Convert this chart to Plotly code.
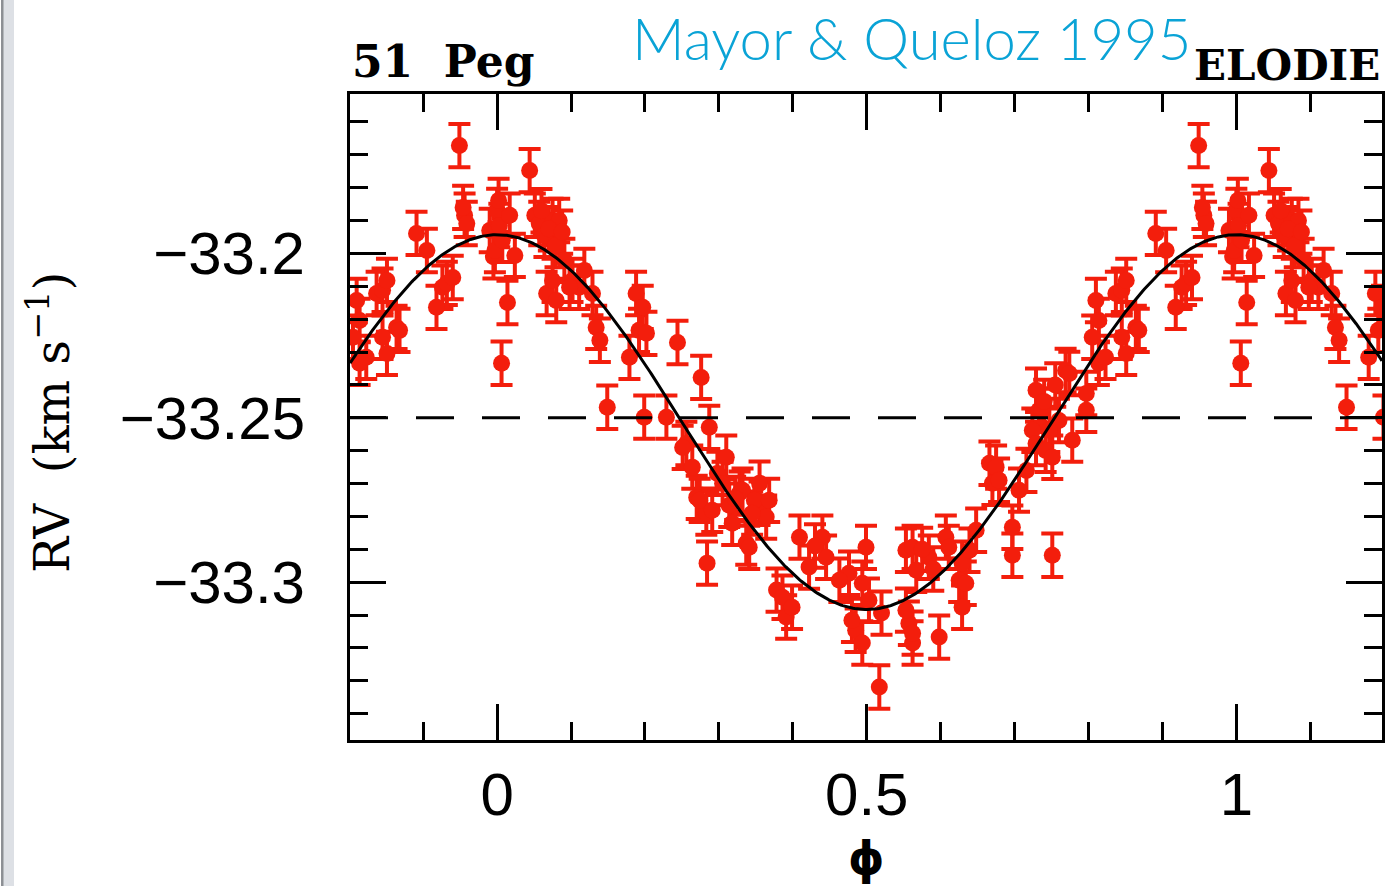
import numpy as np
import plotly.graph_objects as go

# Orbital phase and radial velocity (km/s) of 51 Peg, ELODIE measurements
phase = [
    0.000, 0.002, 0.007, 0.003, 0.014, 0.006, 0.044, 0.051, 0.057, 0.064,
    0.075, 0.084, 0.079, 0.067, 0.080, 0.075, 0.091, 0.102, 0.111, 0.098,
    0.118, 0.129, 0.134, 0.139, 0.179, 0.188, 0.197, 0.192, 0.149, 0.199,
    0.017, 0.024, 0.060, 0.070, 0.088,
    0.202, 0.229, 0.244, 0.276, 0.287, 0.256, 0.251, 0.264, 0.270, 0.283,
    0.284, 0.274, 0.291, 0.310, 0.328, 0.332, 0.318, 0.337, 0.341, 0.355,
    0.364, 0.355, 0.378, 0.386, 0.391, 0.409, 0.422, 0.440, 0.445, 0.476,
    0.499, 0.494, 0.485, 0.494, 0.517, 0.298, 0.314, 0.348, 0.368, 0.399,
    0.463, 0.480, 0.322, 0.345, 0.305, 0.430,
    0.503, 0.520, 0.553, 0.567, 0.557, 0.562, 0.553, 0.562, 0.598, 0.562,
    0.584, 0.607, 0.611, 0.625, 0.629, 0.629, 0.634, 0.639, 0.648, 0.666,
    0.670, 0.675, 0.697, 0.697, 0.706, 0.751, 0.729, 0.733, 0.724, 0.729,
    0.742, 0.751, 0.760, 0.769, 0.737, 0.778, 0.774, 0.797, 0.797, 0.679,
    0.716, 0.747, 0.740, 0.755, 0.575, 0.590,
    0.805, 0.810, 0.814, 0.814, 0.823, 0.837, 0.845, 0.845, 0.851, 0.851,
    0.864, 0.868, 0.891, 0.905, 0.918, 0.926, 0.932, 0.949, 0.956, 0.959,
    0.954, 0.940, 0.990, 0.995, 0.997,
]
rv = [
    -33.1869, -33.1839, -33.1960, -33.1915, -33.2149, -33.2334, -33.1748, -33.1884, -33.1909, -33.1945,
    -33.1900, -33.1900, -33.1976, -33.2122, -33.2143, -33.2082, -33.2021, -33.2082, -33.2103, -33.2103,
    -33.2052, -33.2122, -33.2225, -33.2264, -33.2316, -33.2122, -33.2164, -33.2234, -33.2468, -33.2498,
    -33.1884, -33.2006, -33.1870, -33.1925, -33.1935,
    -33.2243, -33.2498, -33.2271, -33.2377, -33.2529, -33.2578, -33.2590, -33.2650, -33.2742, -33.2790,
    -33.2942, -33.2751, -33.2781, -33.2620, -33.2729, -33.2720, -33.2821, -33.2881, -33.2894, -33.2760,
    -33.2802, -33.2699, -33.3024, -33.3046, -33.3106, -33.2863, -33.2954, -33.2863, -33.2924, -33.2973,
    -33.2894, -33.3003, -33.3146, -33.3185, -33.3319, -33.2669, -33.2766, -33.2751, -33.2751, -33.3076,
    -33.2994, -33.3116, -33.2745, -33.2790, -33.2700, -33.2890,
    -33.3055, -33.3094, -33.2903, -33.2964, -33.3125, -33.3185, -33.3085, -33.3155, -33.3167, -33.2894,
    -33.2924, -33.2863, -33.2894, -33.2994, -33.3076, -33.2942, -33.3003, -33.2903, -33.2842, -33.2638,
    -33.2699, -33.2650, -33.2833, -33.2918, -33.2720, -33.2918, -33.2416, -33.2477, -33.2538, -33.2578,
    -33.2599, -33.2620, -33.2508, -33.2356, -33.2477, -33.2568, -33.2365, -33.2477, -33.2426, -33.2690,
    -33.2660, -33.2538, -33.2450, -33.2400, -33.2900, -33.2960,
    -33.2255, -33.2143, -33.2204, -33.2334, -33.2316, -33.2122, -33.2112, -33.2255, -33.2082, -33.2304,
    -33.2225, -33.2234, -33.1939, -33.1991, -33.2164, -33.2103, -33.2091, -33.1672, -33.1884, -33.1909,
    -33.1860, -33.2073, -33.1930, -33.2010, -33.1991,
]
RV_ERR = 0.0066          # km/s, per-point uncertainty

# Circular orbit solution
GAMMA = -33.2513         # systemic velocity, km/s
K_AMP = 0.0570           # semi-amplitude, km/s
REF_LEVEL = -33.25       # dashed reference level

X_RANGE = [-0.199, 1.197]
Y_RANGE = [-33.348, -33.1515]
X_TICKS = [0, 0.5, 1]
X_TICK_TEXT = ["0", "0.5", "1"]
Y_TICKS = [-33.3, -33.25, -33.2]

RED = "#f31e0c"

# Repeat the folded data outside [0, 1) so the plot spans -0.2 .. 1.2
ph = np.array(phase)
v = np.array(rv)
lo = ph >= 0.8
hi = ph < 0.2
ph_all = np.concatenate([ph[lo] - 1.0, ph, ph[hi] + 1.0])
v_all = np.concatenate([v[lo], v, v[hi]])

fig = go.Figure()

fig.add_trace(go.Scatter(
    x=ph_all, y=v_all, mode="markers",
    marker=dict(color=RED, size=17, line=dict(width=0)),
    error_y=dict(type="constant", value=RV_ERR, color=RED, thickness=4, width=11),
    showlegend=False, hoverinfo="skip",
))

xs = np.linspace(X_RANGE[0], X_RANGE[1], 600)
fig.add_trace(go.Scatter(
    x=xs, y=GAMMA + K_AMP * np.cos(2 * np.pi * xs), mode="lines",
    line=dict(color="black", width=3), showlegend=False, hoverinfo="skip",
))

# Dashed systemic-velocity reference
fig.add_shape(type="line", xref="paper", yref="y", x0=0, x1=1,
              y0=REF_LEVEL, y1=REF_LEVEL,
              line=dict(color="black", width=3, dash="38px,28px"))

W, H = 1387, 886
L, R, T, B = 350, 2, 94, 146
PW, PH = W - L - R, H - T - B


def px(xp):
    return (xp - L) / PW


def py(yp):
    return (H - B - yp) / PH


# Grey window edge on the far left
fig.add_shape(type="rect", xref="paper", yref="paper",
              x0=px(0), x1=px(13), y0=py(H), y1=py(0),
              fillcolor="#dde0e5", line=dict(width=0), layer="above")
fig.add_shape(type="rect", xref="paper", yref="paper",
              x0=px(0), x1=px(2.5), y0=py(H), y1=py(0),
              fillcolor="#8c8f94", line=dict(width=0), layer="above")

axis_common = dict(
    showline=True, linecolor="black", linewidth=3, mirror="ticks",
    ticks="inside", tickwidth=3, tickcolor="black", ticklen=36,
    showgrid=False, zeroline=False,
    tickfont=dict(family="Liberation Sans, Arial, sans-serif", size=60, color="black"),
)

fig.update_xaxes(
    range=X_RANGE, tickvals=X_TICKS, ticktext=X_TICK_TEXT,
    ticklabelstandoff=0,
    minor=dict(dtick=0.1, tick0=0, ticks="inside", ticklen=18, tickwidth=3, tickcolor="black"),
    **axis_common,
)
fig.update_yaxes(
    range=Y_RANGE, tickvals=Y_TICKS, tickformat=".2~f",
    ticklabelstandoff=30,
    minor=dict(dtick=0.01, tick0=-33.2, ticks="inside", ticklen=18, tickwidth=3, tickcolor="black"),
    **axis_common,
)

serif = "DejaVu Serif, Liberation Serif, serif"
annotations = [
    dict(text="<b>51  Peg</b>", x=0, y=py(61), xanchor="left", yanchor="middle",
         font=dict(family=serif, size=44, color="black")),
    dict(text="<b>ELODIE</b>", x=1, y=py(66), xanchor="right", yanchor="middle",
         font=dict(family=serif, size=42, color="black")),
    dict(text="Mayor &amp; Queloz 1995", x=px(913), y=py(37), xanchor="center", yanchor="middle",
         font=dict(family="Lato, Open Sans, sans-serif", size=58, color="#0aa3d6", weight=300)),
    dict(text="RV  (km s<sup>−1</sup>)", x=px(48), y=py(422), xanchor="center", yanchor="middle",
         textangle=-90, font=dict(family=serif, size=48, color="black")),
    dict(text="<b>ϕ</b>", x=px(868), y=py(858), xanchor="center", yanchor="middle",
         font=dict(family="DejaVu Sans, sans-serif", size=46, color="black")),
]
for a in annotations:
    a.update(xref="paper", yref="paper", showarrow=False)
fig.update_layout(annotations=annotations)

fig.update_layout(
    width=W, height=H,
    margin=dict(l=L, r=R, t=T, b=B),
    paper_bgcolor="white", plot_bgcolor="white",
)

fig.write_html("out.html")
